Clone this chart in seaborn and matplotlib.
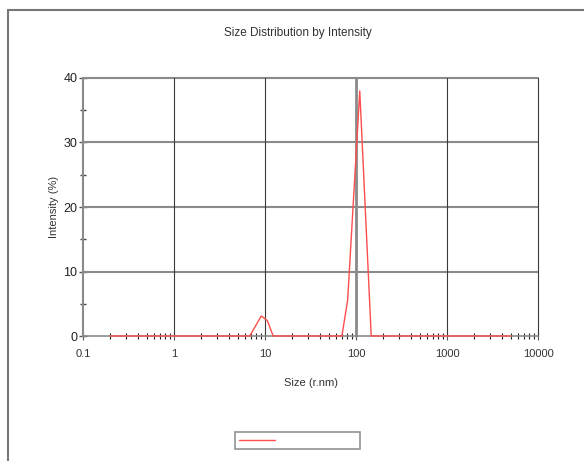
import matplotlib
matplotlib.use("Agg")
import matplotlib.pyplot as plt
import matplotlib.ticker as mticker
from matplotlib.lines import Line2D
import seaborn as sns
import pandas as pd

# ---- data ----
size_nm = [0.2, 6.8, 9.1, 10.6, 12.3, 70, 81, 110, 147, 5000]
intensity = [0.0, 0.0, 3.1, 2.4, 0.0, 0.0, 5.6, 38.0, 0.0, 0.0]
x_ticks = [0.1, 1, 10, 100, 1000, 10000]
x_tick_labels = ["0.1", "1", "10", "100", "1000", "10000"]
y_ticks = [0, 10, 20, 30, 40]

sns.set_style("white")
plt.rcParams['font.family'] = ['Liberation Sans Narrow', 'Liberation Sans', 'DejaVu Sans']

df = pd.DataFrame({"Size (r.nm)": size_nm, "Intensity (%)": intensity})

fig = plt.figure(figsize=(5.84, 4.61), dpi=100)
ax = fig.add_axes([83/584, 1-336/461, (538-83)/584, (336-78)/461])

# gridlines
for yv in y_ticks[1:]:
    ax.axhline(yv, color="#8a8a8a", lw=1.5, zorder=1)
for xv in x_ticks[1:]:
    ax.axvline(xv, color="#8a8a8a" if xv == 100 else "#3a3a3a",
               lw=2.0 if xv == 100 else 0.8, zorder=1)
ax.axhline(0, color="#8a8a8a", lw=1.2, zorder=2, clip_on=False)

sns.lineplot(data=df, x="Size (r.nm)", y="Intensity (%)", ax=ax,
             color="#ff4d4d", lw=1.0, zorder=2.3,
             label="                          ")
for ln in ax.get_lines():
    ln.set_clip_on(False)

ax.set_xscale("log")
ax.set_xlim(0.1, 10000)
ax.set_ylim(0, 40)

for s in ["top", "right", "bottom"]:
    ax.spines[s].set_visible(False)
ax.spines["left"].set_color("#8a8a8a")
ax.spines["left"].set_linewidth(1.5)

ax.set_xticks(x_ticks)
ax.set_xticklabels(x_tick_labels)
ax.xaxis.set_minor_locator(mticker.LogLocator(base=10, subs=range(2, 10), numticks=20))
ax.xaxis.set_minor_formatter(mticker.NullFormatter())
ax.tick_params(axis="x", which="major", direction="inout", length=6, width=0.8,
               color="#555555", labelsize=8, pad=6, bottom=True, labelcolor="#333333")
ax.tick_params(axis="x", which="minor", direction="inout", length=5, width=0.8,
               color="#222222", bottom=True)

ax.set_yticks(y_ticks)
ax.yaxis.set_minor_locator(mticker.MultipleLocator(5))
ax.tick_params(axis="y", which="major", direction="inout", length=6, width=1.0,
               color="#555555", labelsize=9, pad=1, left=True, labelcolor="#222222")
ax.tick_params(axis="y", which="minor", direction="inout", length=4, width=1.0,
               color="#444444", left=True)

ax.set_xlabel("Size (r.nm)", fontsize=8, color="#333333", labelpad=14)
ax.set_ylabel("Intensity (%)", fontsize=8, color="#333333", labelpad=3)
fig.text(298/584, 1-33/461, "Size Distribution by Intensity", ha="center",
         va="center", fontsize=8.5, color="#333333")

leg = ax.legend(loc="center", bbox_to_anchor=(297.5/584, 1-440.5/461),
                bbox_transform=fig.transFigure, frameon=True, fancybox=False,
                handlelength=3.2, borderpad=0.35, fontsize=8, handletextpad=0.0,
                borderaxespad=0)
leg.get_frame().set_edgecolor("#777777")
leg.get_frame().set_linewidth(1.2)

# outer figure frame (left and top)
fig.add_artist(Line2D([8/584, 8/584], [0, 1-10/461], transform=fig.transFigure,
                      color="#777777", lw=1.5))
fig.add_artist(Line2D([8/584, 1], [1-10/461, 1-10/461], transform=fig.transFigure,
                      color="#777777", lw=1.5))

fig.savefig("out.png", dpi=100)
